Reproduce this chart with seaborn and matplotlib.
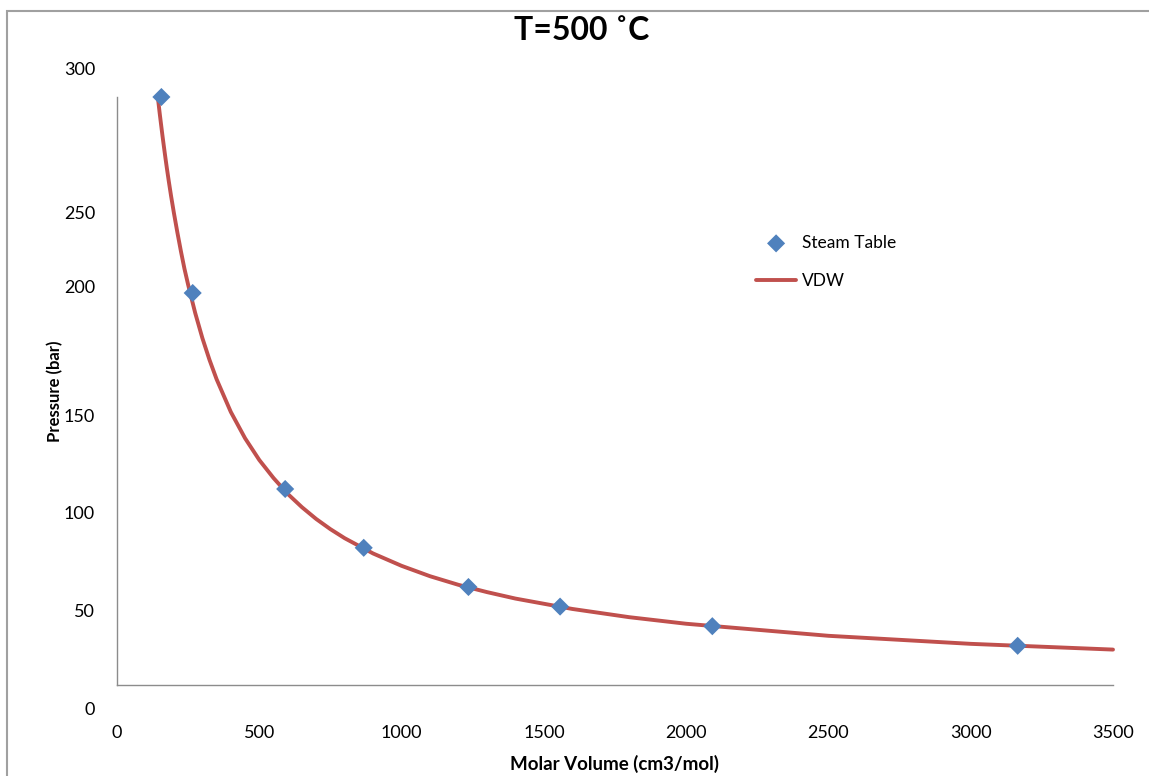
import matplotlib
matplotlib.use("Agg")
import matplotlib.pyplot as plt
import seaborn as sns
import pandas as pd
from matplotlib.patches import Rectangle

# Steam table data (T = 500 C)
steam_volume = [156, 266, 591, 867, 1235, 1557, 2092, 3165]
steam_pressure = [300, 200, 100, 70, 50, 40, 30, 20]

# VDW curve
vdw_volume = [145, 150, 155, 160, 165, 170, 175, 182, 190, 200, 212, 225, 237, 250, 262, 275,
              300, 325, 350, 400, 450, 500, 550, 600, 650, 700, 750, 800, 900, 1000, 1100,
              1200, 1300, 1400, 1600, 1800, 2000, 2500, 3000, 3500]
vdw_pressure = [298.0, 291.7, 285.8, 280.0, 274.5, 269.1, 263.9, 257.0, 249.5, 240.8,
                231.0, 221.0, 212.4, 204.2, 197.2, 189.7, 177.0, 165.9, 156.0, 139.3,
                125.9, 114.8, 105.6, 97.5, 90.7, 84.7, 79.5, 74.9, 67.1, 60.8, 55.5,
                51.1, 47.4, 44.1, 38.8, 34.6, 31.25, 25.1, 21.0, 18.07]

x_ticks = [0, 500, 1000, 1500, 2000, 2500, 3000, 3500]
# y tick labels and where they sit in the reference (in bar units of the axis)
y_tick_labels = ["300", "250", "200", "150", "100", "50", "0"]
y_tick_places = [313.8, 240.3, 202.6, 136.7, 87.2, 37.2, -12.8]

title = "T=500 ˚C"
x_label = "Molar Volume (cm3/mol)"
y_label = "Pressure (bar)"

sns.set_theme(style="white")
plt.rcParams['font.family'] = ['Lato', 'DejaVu Sans']
plt.rcParams['text.color'] = 'black'
plt.rcParams['axes.labelcolor'] = 'black'
plt.rcParams['xtick.color'] = 'black'

fig = plt.figure(figsize=(11.49, 7.76), dpi=100)
ax = fig.add_axes([117/1149, 1-685/776, 996/1149, 588/776])

steam_df = pd.DataFrame({"V": steam_volume, "P": steam_pressure})
vdw_df = pd.DataFrame({"V": vdw_volume, "P": vdw_pressure})

sns.lineplot(data=vdw_df, x="V", y="P", ax=ax, color="#C0504D", linewidth=2.8,
             label="VDW", zorder=2, clip_on=False)
sns.scatterplot(data=steam_df, x="V", y="P", ax=ax, marker="D", s=85, color="#4F81BD",
                edgecolor="none", label="Steam Table", zorder=3, clip_on=False)

ax.set_xlim(0, 3500)
ax.set_ylim(0, 300)
ax.set_xticks(x_ticks)
ax.set_xticklabels([str(t) for t in x_ticks], fontsize=13, color="black")
ax.set_yticks([])
ax.tick_params(axis="x", length=0, pad=29)
for lab, pos in zip(y_tick_labels, y_tick_places):
    ax.text(-0.022, pos, lab, transform=ax.get_yaxis_transform(), ha="right",
            va="center", fontsize=13, color="black", clip_on=False)

for s in ["top", "right"]:
    ax.spines[s].set_visible(False)
for s in ["left", "bottom"]:
    ax.spines[s].set_color("#8C8C8C")
    ax.spines[s].set_linewidth(1.0)

ax.set_xlabel(x_label, fontsize=13.5, fontweight="bold", labelpad=10, color="black")
ax.set_ylabel(y_label, fontsize=12, fontweight="bold", labelpad=39, color="black")
ax.set_title(title, fontsize=23, fontweight="bold", pad=41, x=0.466, color="black")

handles, labels = ax.get_legend_handles_labels()
order = [labels.index("Steam Table"), labels.index("VDW")]
ax.legend([handles[i] for i in order], [labels[i] for i in order],
          loc="upper left", bbox_to_anchor=(0.626, 0.792), frameon=False,
          fontsize=12.5, handlelength=2.3, handletextpad=0.35, labelspacing=1.25,
          labelcolor="black")

fig.patches.append(Rectangle((7/1149, -0.02), 1.05, 1-11/776+0.02,
                             transform=fig.transFigure, fill=False,
                             edgecolor="#A0A0A0", linewidth=1.5, zorder=0))

fig.savefig("out.png", dpi=100)
